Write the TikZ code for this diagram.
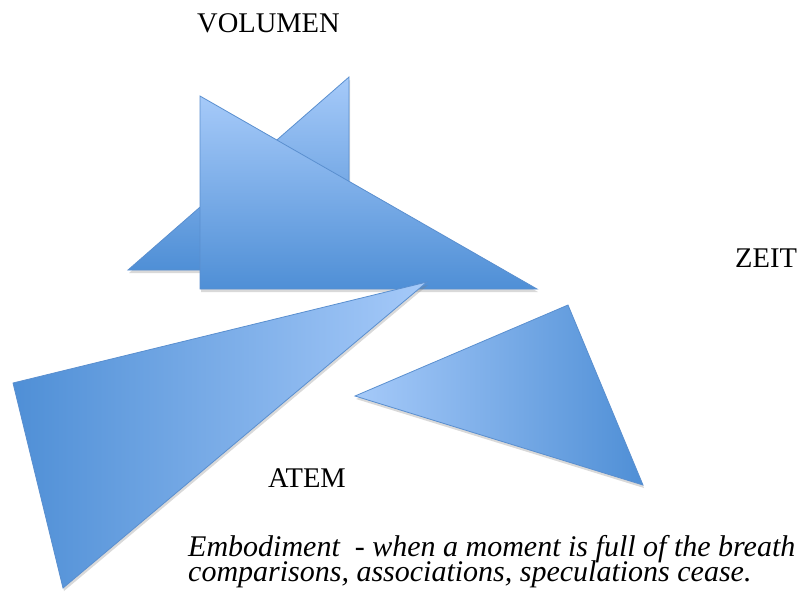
\documentclass[tikz,border=0pt]{standalone}
\usepackage{fontspec}
\setmainfont{Liberation Serif}
\newfontfamily\timesfont{Liberation Serif}
\usepackage{tikz}
\usetikzlibrary{shadows}
\definecolor{triLight}{HTML}{A6CAF9}
\definecolor{triDark}{HTML}{4F8FD6}
\definecolor{triEdge}{HTML}{5A8FCF}

\begin{document}
\begin{tikzpicture}[x=1pt, y=-1pt,
    tri/.style={draw=triEdge, line width=0.8pt, line join=miter,
        drop shadow={opacity=0.3, shadow xshift=1pt, shadow yshift=-3pt}},
    word/.style={anchor=base west, inner sep=0pt, font=\timesfont\fontsize{28.5}{32}\selectfont},
    quote/.style={anchor=base west, inner sep=0pt, font=\timesfont\itshape\fontsize{30}{30}\selectfont}]
    \useasboundingbox (0,0) rectangle (798,592);

    %
    \coordinate (P1) at (349, 77);
    \coordinate (P2) at (128, 270);
    \coordinate (P3) at (349, 270);

    %
    \coordinate (Q1) at (200, 96);
    \coordinate (Q2) at (200, 289);
    \coordinate (Q3) at (537, 289);

    %
    \coordinate (R1) at (427, 282);
    \coordinate (R2) at (13, 383);
    \coordinate (R3) at (63, 588);

    %
    \coordinate (S1) at (568, 305);
    \coordinate (S2) at (355, 396);
    \coordinate (S3) at (643, 485);

    %
    \draw[tri, top color=triLight, bottom color=triDark] (P1) -- (P2) -- (P3) -- cycle;
    \draw[tri, top color=triLight, bottom color=triDark] (Q1) -- (Q2) -- (Q3) -- cycle;
    \draw[tri, left color=triDark, right color=triLight] (R1) -- (R2) -- (R3) -- cycle;
    \draw[tri, left color=triLight, right color=triDark] (S1) -- (S2) -- (S3) -- cycle;

    %
    \node[word] (volumen) at (197, 32) {VOLUMEN};
    \node[word] (zeit) at (735, 267) {ZEIT};
    \node[word] (atem) at (268, 487) {ATEM};
    \node[quote] (line1) at (188, 556) {Embodiment\ \ - when a moment is full of the breath of life,};
    \node[quote] (line2) at (188, 581) {comparisons, associations, speculations cease.};

\end{tikzpicture}
\end{document}
